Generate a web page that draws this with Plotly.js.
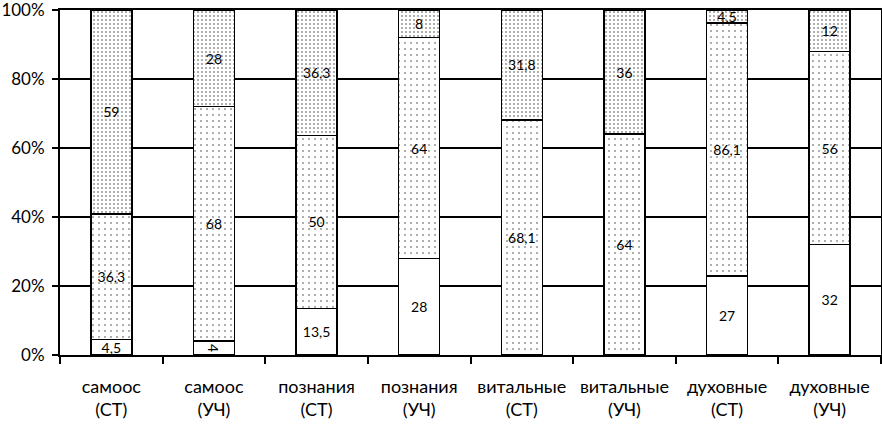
<!DOCTYPE html>
<html>
<head>
<meta charset="utf-8">
<script src="https://cdn.plot.ly/plotly-3.0.1.min.js"></script>
<style>html,body{margin:0;padding:0;background:#fff;}#chart{width:882px;height:424px;}</style>
</head>
<body>
<div id="chart"></div>
<script>
const categories = ["самоос<br>(СТ)", "самоос<br>(УЧ)", "познания<br>(СТ)", "познания<br>(УЧ)", "витальные<br>(СТ)", "витальные<br>(УЧ)", "духовные<br>(СТ)", "духовные<br>(УЧ)"];
const lowValues = [4.5, 4, 13.5, 28, 0, 0, 27, 32];
const midValues = [36.3, 68, 50, 64, 68.1, 64, 86.1, 56];
const highValues = [59, 28, 36.3, 8, 31.8, 36, 4.5, 12];
const yTickVals = [0, 20, 40, 60, 80, 100];
const yTickText = ["0%", "20%", "40%", "60%", "80%", "100%"];

function fmt(v) { return v === 0 ? "" : String(v).replace(".", ","); }

const common = {
  type: "bar",
  x: categories,
  textposition: "inside",
  insidetextanchor: "middle",
  texttemplate: "%{text}",
  textfont: {family: "Lato, 'Open Sans', sans-serif", size: 14, color: "#000"},
  constraintext: "none",
  hoverinfo: "none",
  cliponaxis: false
};

const traces = [
  Object.assign({}, common, {
    y: lowValues, text: lowValues.map(fmt), name: "low",
    marker: {color: "#ffffff", line: {color: "#000", width: 1.5}}
  }),
  Object.assign({}, common, {
    y: midValues, text: midValues.map(fmt), name: "mid",
    marker: {color: "#ffffff", line: {color: "#000", width: 1.5},
      pattern: {shape: ".", size: 6, solidity: 0.04, fgcolor: "#222", bgcolor: "#ffffff"}}
  }),
  Object.assign({}, common, {
    y: highValues, text: highValues.map(fmt), name: "high",
    marker: {color: "#ffffff", line: {color: "#000", width: 1.5},
      pattern: {shape: ".", size: 4, solidity: 0.09, fgcolor: "#222", bgcolor: "#ffffff"}}
  })
];

const layout = {
  width: 882, height: 424,
  margin: {l: 60, r: 1, t: 10, b: 69},
  barmode: "stack",
  barnorm: "percent",
  bargap: 0.6,
  showlegend: false,
  paper_bgcolor: "#fff",
  plot_bgcolor: "#fff",
  font: {family: "Lato, 'Open Sans', sans-serif", size: 18, color: "#000"},
  xaxis: {
    type: "category",
    showline: true, linecolor: "#000", linewidth: 2, mirror: true,
    ticks: "outside", tickson: "boundaries", ticklen: 7, tickwidth: 2, tickcolor: "#000",
    ticklabelstandoff: 14,
    tickfont: {size: 18, color: "#000"},
    showgrid: false
  },
  yaxis: {
    range: [0, 100],
    autorange: false,
    tickmode: "array",
    tickvals: yTickVals,
    ticktext: yTickText,
    showline: true, linecolor: "#000", linewidth: 2, mirror: true,
    ticks: "outside", ticklen: 6, tickwidth: 2, tickcolor: "#000",
    ticklabelstandoff: 4,
    ticklabeloverflow: "allow",
    showgrid: true, gridcolor: "#000", gridwidth: 2,
    zeroline: false,
    automargin: false,
    tickfont: {size: 17, color: "#000"}
  }
};

Plotly.newPlot("chart", traces, layout, {displayModeBar: false, staticPlot: true});
</script>
</body>
</html>
